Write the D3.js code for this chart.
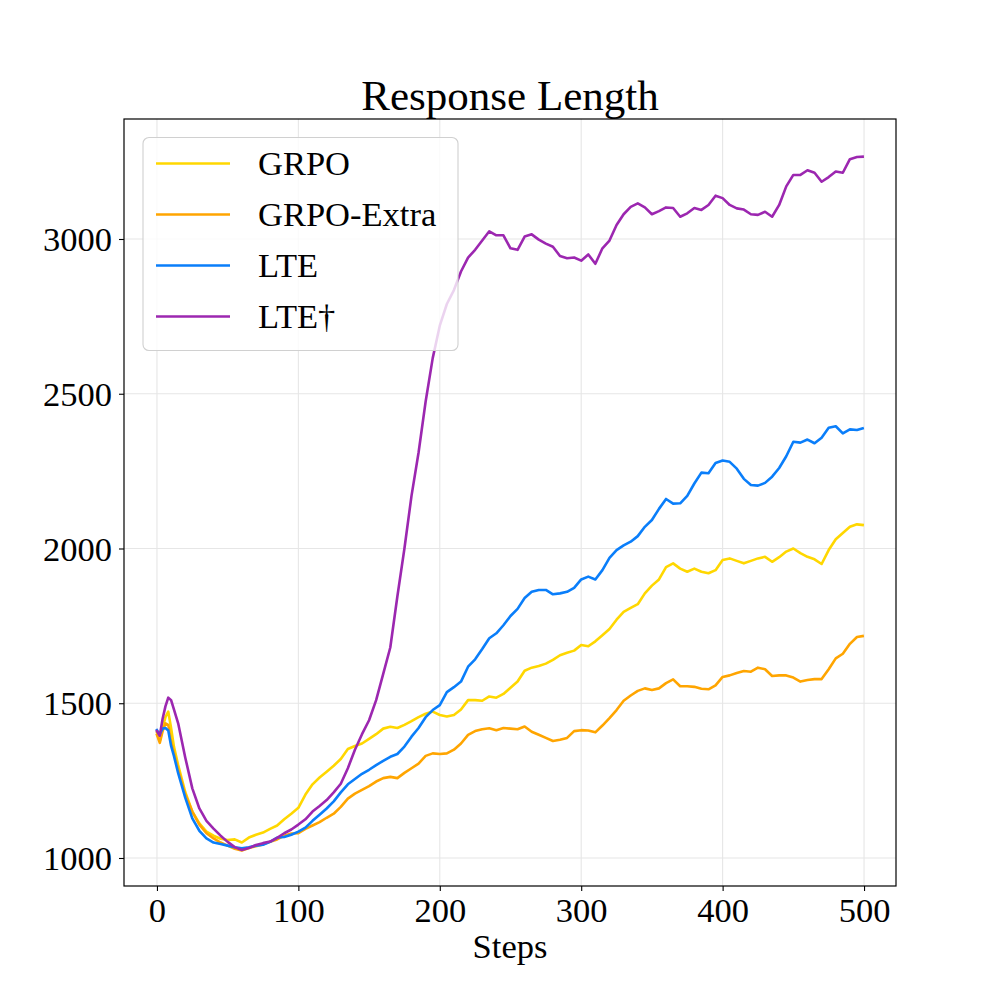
<!DOCTYPE html>
<html>
<head>
<meta charset="utf-8">
<script src="https://cdn.jsdelivr.net/npm/d3@7/dist/d3.min.js"></script>
<style>
  html, body { margin: 0; padding: 0; background: #fff; }
  svg { display: block; }
  text { font-family: "Liberation Serif", "Times New Roman", serif; fill: #000; }
</style>
</head>
<body>
<svg id="chart" width="996" height="996"></svg>
<script>
// ---- data ----
const steps = [0,2,4,6,8,10,12,15,20,25,30,35,40,45,50,55,60,65,70,75,80,85,90,95,100,
  105,110,115,120,125,130,135,140,145,150,155,160,165,170,175,180,185,190,195,200,
  205,210,215,220,225,230,235,240,245,250,255,260,265,270,275,280,285,290,295,300,
  305,310,315,320,325,330,335,340,345,350,355,360,365,370,375,380,385,390,395,400,
  405,410,415,420,425,430,435,440,445,450,455,460,465,470,475,480,485,490,495,499];

const grpo = [1405,1378,1420,1455,1473,1420,1360,1300,1213,1150,1112,1085,1072,1062,1058,1060,1050,1066,1075,1082,1094,1105,1125,1143,1162,
  1205,1238,1260,1279,1298,1320,1352,1362,1370,1385,1400,1418,1424,1420,1430,1442,1455,1466,1473,1462,
  1457,1462,1480,1510,1510,1508,1522,1518,1530,1550,1570,1605,1615,1620,1628,1640,1655,1663,1670,1688,
  1684,1700,1720,1740,1770,1795,1808,1820,1855,1880,1900,1940,1952,1935,1925,1935,1925,1920,1930,1963,
  1968,1960,1952,1960,1968,1973,1957,1972,1990,2000,1985,1973,1965,1950,1995,2030,2050,2070,2078,2076];

const grpoExtra = [1398,1372,1410,1435,1430,1375,1340,1285,1205,1150,1108,1080,1063,1050,1040,1030,1024,1032,1038,1044,1052,1060,1072,1079,1080,
  1094,1105,1116,1130,1143,1165,1192,1208,1220,1232,1247,1258,1262,1258,1275,1290,1305,1330,1338,1336,
  1338,1350,1370,1398,1410,1416,1419,1413,1420,1418,1416,1425,1408,1398,1388,1378,1382,1388,1410,1413,
  1412,1406,1428,1452,1478,1508,1525,1540,1548,1543,1548,1565,1577,1555,1555,1553,1547,1545,1558,1585,
  1590,1598,1604,1602,1615,1610,1588,1590,1590,1583,1570,1575,1578,1578,1610,1645,1660,1692,1714,1717];

const lte = [1413,1400,1418,1420,1412,1362,1330,1274,1195,1128,1088,1063,1050,1045,1040,1035,1031,1035,1040,1043,1052,1066,1068,1075,1085,
  1098,1120,1140,1160,1183,1212,1238,1255,1272,1285,1300,1314,1327,1336,1360,1392,1420,1455,1478,1494,
  1536,1552,1570,1618,1642,1675,1710,1726,1752,1782,1805,1840,1860,1866,1866,1852,1855,1860,1873,1900,
  1909,1900,1930,1970,1995,2010,2022,2040,2070,2092,2128,2160,2145,2146,2170,2210,2245,2243,2276,2284,
  2280,2258,2225,2205,2203,2212,2232,2260,2298,2345,2342,2352,2340,2358,2390,2395,2372,2385,2383,2388];

const lteDagger = [1410,1395,1450,1490,1518,1510,1480,1435,1325,1225,1160,1120,1095,1072,1052,1035,1026,1032,1042,1048,1053,1065,1080,1092,1108,
  1125,1150,1168,1187,1212,1240,1290,1350,1400,1445,1510,1595,1680,1845,2000,2170,2310,2475,2615,2720,
  2790,2835,2895,2940,2965,2995,3025,3012,3012,2970,2965,3008,3015,2998,2985,2975,2945,2938,2940,2930,
  2950,2920,2970,2995,3045,3080,3104,3115,3102,3080,3090,3102,3100,3072,3083,3100,3094,3110,3140,3132,
  3110,3099,3095,3080,3078,3088,3072,3110,3170,3207,3207,3222,3214,3185,3200,3218,3214,3258,3265,3266];

const seriesNames = ["GRPO", "GRPO-Extra", "LTE", "LTE\u2020"];
const seriesValues = [grpo, grpoExtra, lte, lteDagger];
const seriesColors = ["#FFD700", "#FFA500", "#0A7EFA", "#9C27B0"];
const xTicks = [0, 100, 200, 300, 400, 500];
const yTicks = [1000, 1500, 2000, 2500, 3000];

// ---- layout ----
const svg = d3.select("#chart");
const L = 124, R = 896, T = 119, B = 886;
const x = d3.scaleLinear().domain([-23.3, 522.6]).range([L, R]);
const y = d3.scaleLinear().domain([909.5, 3387.7]).range([B, T]);
const fs = 34.5;

// grid
const grid = svg.append("g");
grid.selectAll("line.vx").data(xTicks).enter().append("line")
  .attr("x1", d => x(d)).attr("x2", d => x(d)).attr("y1", T).attr("y2", B)
  .attr("stroke", "#e6e6e6").attr("stroke-width", 1.1);
grid.selectAll("line.hy").data(yTicks).enter().append("line")
  .attr("x1", L).attr("x2", R).attr("y1", d => y(d)).attr("y2", d => y(d))
  .attr("stroke", "#e6e6e6").attr("stroke-width", 1.1);

// lines
const line = d3.line().x(d => x(d[0])).y(d => y(d[1]));
seriesValues.forEach((vals, i) => {
  svg.append("path")
    .datum(steps.map((s, j) => [s, vals[j]]))
    .attr("d", line)
    .attr("fill", "none")
    .attr("stroke", seriesColors[i])
    .attr("stroke-width", 2.6)
    .attr("stroke-linejoin", "round")
    .attr("stroke-linecap", "square");
});

// axes
const xAxis = d3.axisBottom(x).tickValues(xTicks).tickFormat(d3.format("d")).tickSize(5).tickPadding(6);
const yAxis = d3.axisLeft(y).tickValues(yTicks).tickFormat(d3.format("d")).tickSize(5).tickPadding(7);
const gx = svg.append("g").attr("transform", `translate(0,${B})`).call(xAxis);
const gy = svg.append("g").attr("transform", `translate(${L},0)`).call(yAxis);
[gx, gy].forEach(g => {
  g.select(".domain").remove();
  g.selectAll(".tick line").attr("stroke", "#000").attr("stroke-width", 1.1);
  g.selectAll(".tick text")
    .style("font-family", '"Liberation Serif", "Times New Roman", serif')
    .style("font-size", fs + "px").attr("fill", "#000");
});
gy.selectAll(".tick text").attr("dy", "0.34em");
gx.selectAll(".tick text").attr("dy", "0.72em");

// frame
svg.append("rect").attr("x", L).attr("y", T).attr("width", R - L).attr("height", B - T)
  .attr("fill", "none").attr("stroke", "#000").attr("stroke-width", 1.2);

// title & label
svg.append("text").attr("x", (L + R) / 2).attr("y", 110).attr("text-anchor", "middle")
  .style("font-size", "43px").text("Response Length");
svg.append("text").attr("x", (L + R) / 2).attr("y", 958).attr("text-anchor", "middle")
  .style("font-size", fs + "px").text("Steps");

// legend
const lg = svg.append("g");
lg.append("rect").attr("x", 143).attr("y", 137.5).attr("width", 315).attr("height", 213)
  .attr("rx", 6).attr("ry", 6)
  .attr("fill", "#fff").attr("fill-opacity", 0.8)
  .attr("stroke", "#d0d0d0").attr("stroke-width", 1.1);
seriesNames.forEach((name, i) => {
  const cy = 163.5 + i * 51;
  lg.append("line").attr("x1", 156).attr("x2", 230).attr("y1", cy).attr("y2", cy)
    .attr("stroke", seriesColors[i]).attr("stroke-width", 2.6);
  lg.append("text").attr("x", 258).attr("y", cy).attr("dy", "0.34em")
    .style("font-size", fs + "px").text(name);
});
</script>
</body>
</html>
